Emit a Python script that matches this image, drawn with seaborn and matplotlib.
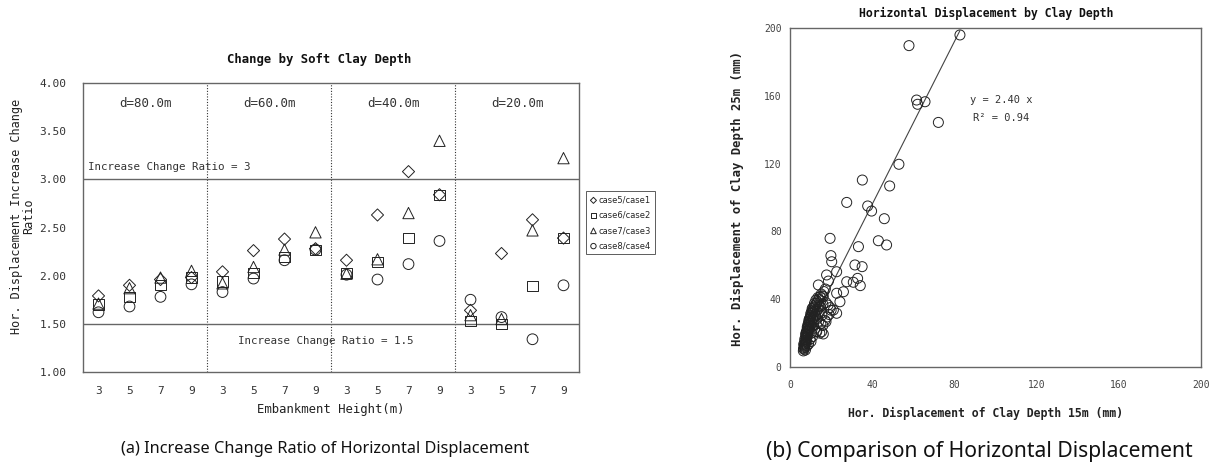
import numpy as np
import pandas as pd
import matplotlib
matplotlib.use("Agg")
import matplotlib.pyplot as plt
import seaborn as sns

# ---- (a) increase change ratio by soft clay depth ----
heights = [3, 5, 7, 9]
depth_labels = ["d=80.0m", "d=60.0m", "d=40.0m", "d=20.0m"]
case_names = ["case5/case1", "case6/case2", "case7/case3", "case8/case4"]

# ratios ordered by depth group (80, 60, 40, 20 m), then embankment height 3,5,7,9
case5_case1 = [1.79, 1.90, 1.96, 1.98, 2.04, 2.26, 2.38, 2.28,
               2.16, 2.63, 3.08, 2.84, 1.64, 2.23, 2.58, 2.39]
case6_case2 = [1.70, 1.78, 1.90, 1.98, 1.94, 2.03, 2.19, 2.27,
               2.03, 2.14, 2.39, 2.84, 1.53, 1.50, 1.89, 2.39]
case7_case3 = [1.71, 1.87, 1.98, 2.05, 1.92, 2.09, 2.27, 2.45,
               2.02, 2.17, 2.65, 3.40, 1.59, 1.55, 2.47, 3.22]
case8_case4 = [1.62, 1.68, 1.78, 1.91, 1.83, 1.97, 2.16, 2.27,
               2.01, 1.96, 2.12, 2.36, 1.75, 1.57, 1.34, 1.90]

ratio_upper = 3.0
ratio_lower = 1.5

# ---- (b) horizontal displacement, clay depth 15 m vs 25 m ----
disp_15m = [82.7, 57.9, 61.6, 62.1, 65.7, 72.2, 53.0, 35.2, 48.5, 27.6,
            37.8, 39.7, 45.9, 43.0, 47.0, 19.5, 33.3, 19.9, 20.3, 22.7,
            17.8, 31.6, 35.1, 18.7, 27.6, 32.9, 30.8, 34.2, 13.8, 26.0,
            22.7, 24.3, 16.2, 21.1, 22.7, 17.5, 15.4, 13.0,
            6.5, 6.8, 7.0, 7.2, 6.9, 7.4, 7.6, 7.3, 7.8, 8.0,
            7.7, 8.2, 8.4, 8.1, 8.6, 8.8, 8.5, 9.0, 9.2, 8.9,
            9.4, 9.6, 9.3, 9.8, 10.0, 10.3, 10.6, 11.0, 11.3, 10.8,
            11.8, 12.3, 12.8, 13.3, 14.0, 14.6, 15.2, 15.8, 16.5, 17.2,
            12.5, 13.2, 14.0, 15.0, 16.0, 17.0, 18.0, 19.0, 11.5, 12.0,
            12.8, 14.5, 16.2, 10.5, 11.0, 9.8, 10.2, 9.0, 8.3, 7.5,
            10.7, 11.4, 12.2, 13.5, 14.8, 16.0, 17.5, 18.5, 20.0, 19.5,
            15.5, 13.8,
            6.6, 7.1, 7.5, 7.9, 8.3, 8.7, 9.1, 9.5, 9.9, 10.4,
            10.9, 11.6, 12.4, 13.0, 14.2, 6.7, 7.2, 7.6, 8.0, 8.4,
            8.8, 9.2, 9.7, 10.1, 10.6, 11.2, 11.9, 12.6, 13.6, 15.0]
disp_25m = [195.9, 189.6, 157.5, 155.0, 156.5, 144.3, 119.6, 110.3, 106.8, 97.1,
            95.0, 92.0, 87.5, 74.5, 72.0, 75.9, 71.0, 65.7, 62.1, 56.2,
            54.3, 60.2, 59.2, 50.7, 50.3, 52.3, 50.0, 48.0, 48.4, 44.4,
            43.5, 38.5, 41.5, 33.6, 31.7, 26.7, 20.8, 20.8,
            9.5, 10.5, 11.5, 12.0, 13.0, 13.5, 14.5, 15.5, 16.0, 17.0,
            18.0, 18.5, 19.5, 20.5, 21.0, 22.0, 23.0, 23.5, 24.5, 25.5,
            26.0, 27.0, 28.0, 28.5, 29.5, 30.5, 31.5, 32.5, 33.5, 34.5,
            35.5, 36.5, 37.5, 38.5, 40.0, 41.5, 43.0, 42.0, 44.5, 46.0,
            30.0, 28.5, 27.0, 25.5, 24.5, 27.5, 29.5, 31.0, 25.0, 22.5,
            21.0, 20.0, 19.5, 20.0, 18.0, 16.5, 15.0, 13.5, 12.5, 10.0,
            24.0, 27.5, 33.0, 34.0, 35.5, 37.0, 38.0, 36.5, 33.5, 35.0,
            30.5, 31.5,
            11.0, 12.5, 14.0, 15.0, 17.5, 19.0, 21.5, 22.5, 24.0, 26.5,
            28.5, 30.0, 31.0, 33.0, 36.0, 13.5, 16.5, 19.5, 21.0, 23.5,
            25.0, 27.0, 29.0, 31.5, 33.0, 35.0, 37.5, 39.5, 41.0, 39.0]
fit_slope = 2.40
fit_r2 = 0.94

# ---------------------------------------------------------------------
sns.set_style("white")
plt.rcParams["font.family"] = ["DejaVu Sans Mono", "DejaVu Sans"]

W, H = 1215, 468
fig = plt.figure(figsize=(W / 100, H / 100), dpi=100)

INK = "#222222"
FRAME = "#666666"

# ---------------- panel (a) ----------------
ax1 = fig.add_axes([83 / W, 1 - 372 / H, 496 / W, 289 / H])
n_groups = len(depth_labels)
n_h = len(heights)
positions = np.arange(n_groups * n_h)

rows = []
for name, vals in zip(case_names, [case5_case1, case6_case2, case7_case3, case8_case4]):
    for p, v in zip(positions, vals):
        rows.append({"pos": p, "ratio": v, "case": name})
df = pd.DataFrame(rows)

marker_spec = {
    "case5/case1": ("D", 38),
    "case6/case2": ("s", 54),
    "case7/case3": ("^", 66),
    "case8/case4": ("o", 60),
}
for name in case_names:
    m, s = marker_spec[name]
    sns.scatterplot(data=df[df["case"] == name], x="pos", y="ratio", marker=m, s=s,
                    facecolors="none", edgecolor=INK, linewidth=0.7,
                    label=name, ax=ax1, zorder=3)

ax1.set_xlim(-0.5, n_groups * n_h - 0.5)
ax1.set_ylim(1.0, 4.0)
ax1.set_xticks(positions)
ax1.set_xticklabels([str(h) for _ in depth_labels for h in heights])
yt = np.arange(1.0, 4.01, 0.5)
ax1.set_yticks(yt)
ax1.set_yticklabels([f"{v:.2f}" for v in yt])
ax1.tick_params(axis="both", length=0, labelsize=8, colors="#333333")
ax1.tick_params(axis="y", pad=12)
ax1.tick_params(axis="x", pad=10)

for sp in ax1.spines.values():
    sp.set_color(FRAME)
    sp.set_linewidth(1.0)

for g in range(1, n_groups):
    ax1.axvline(g * n_h - 0.5, color="#333333", lw=0.8, ls=(0, (1, 1.5)), zorder=1)
ax1.axhline(ratio_upper, color=FRAME, lw=1.0, zorder=1)
ax1.axhline(ratio_lower, color=FRAME, lw=1.0, zorder=1)

for g, lab in enumerate(depth_labels):
    ax1.text(g * n_h + (n_h - 1) / 2, 3.79, lab, ha="center", va="center",
             fontsize=9, color="#333333")
ax1.text(-0.35, 3.13, f"Increase Change Ratio = {ratio_upper:g}", ha="left",
         va="center", fontsize=7.8, color="#333333")
ax1.text(7.34, 1.32, f"Increase Change Ratio = {ratio_lower:g}", ha="center",
         va="center", fontsize=7.8, color="#333333")

ax1.set_xlabel("Embankment Height(m)", fontsize=8.8, labelpad=5, color="#222222")
ax1.set_ylabel("")
# two-line y title, one text per line
fig.text(17 / W, 1 - 216 / H, "Hor. Displacement Increase Change",
         rotation=90, ha="center", va="center", fontsize=8.6, color="#222222")
fig.text(29 / W, 1 - 216 / H, "Ratio",
         rotation=90, ha="center", va="center", fontsize=8.6, color="#222222")
fig.text(319 / W, 1 - 60 / H, "Change by Soft Clay Depth", ha="center", va="center",
         fontsize=8.8, fontweight="bold", color="#111111")

leg = ax1.legend(loc="upper left", bbox_to_anchor=(1.014, 0.625), frameon=True,
                 fancybox=False, markerscale=0.5, handletextpad=0.2,
                 borderpad=0.5, labelspacing=0.75, handlelength=0.8,
                 borderaxespad=0, prop={"family": "DejaVu Sans", "size": 6.0})
leg.get_frame().set_edgecolor("#333333")
leg.get_frame().set_linewidth(0.7)

# ---------------- panel (b) ----------------
ax2 = fig.add_axes([790 / W, 1 - 367 / H, 411 / W, 339 / H])
sns.scatterplot(x=disp_15m, y=disp_25m, marker="o", s=52, facecolors="none",
                edgecolor=INK, linewidth=0.7, ax=ax2, zorder=3)
fit_x = np.array([min(disp_15m), max(disp_15m)])
sns.lineplot(x=fit_x, y=fit_slope * fit_x, color="#444444", lw=0.8, ax=ax2, zorder=2)

ax2.set_xlim(0, 200)
ax2.set_ylim(0, 200)
ticks = np.arange(0, 201, 40)
ax2.set_xticks(ticks)
ax2.set_yticks(ticks)
ax2.tick_params(axis="both", direction="in", length=3, width=0.7, color=FRAME,
                labelsize=7, labelcolor="#444444")
ax2.tick_params(axis="x", pad=9)
ax2.tick_params(axis="y", pad=6)
for sp in ax2.spines.values():
    sp.set_color(FRAME)
    sp.set_linewidth(1.0)

ax2.text(1001 / W, 1 - 100 / H, f"y = {fit_slope:.2f} x", transform=fig.transFigure,
         ha="center", va="center", fontsize=7.5, color="#333333")
ax2.text(1001 / W, 1 - 118 / H, f"R\u00b2 = {fit_r2:.2f}", transform=fig.transFigure,
         ha="center", va="center", fontsize=7.5, color="#333333")

ax2.set_xlabel("")
ax2.set_ylabel("")
fig.text(985 / W, 1 - 413 / H, "Hor. Displacement of Clay Depth 15m (mm)",
         ha="center", va="center", fontsize=8.3, fontweight="bold", color="#222222")
fig.text(737 / W, 1 - 198 / H, "Hor. Displacement of Clay Depth 25m (mm)",
         rotation=90, ha="center", va="center", fontsize=8.8, fontweight="bold",
         color="#222222")
fig.text(986 / W, 1 - 13 / H, "Horizontal Displacement by Clay Depth", ha="center",
         va="center", fontsize=8.3, fontweight="bold", color="#111111")

# ---------------- captions ----------------
cap_a = fig.text(325 / W, 1 - 449 / H,
                 "(a) Increase Change Ratio of Horizontal Displacement",
                 ha="center", va="center", fontsize=13, color="#111111",
                 family="Noto Sans")
# size caption (a) to span its column
renderer = fig.canvas.get_renderer()
w_px = cap_a.get_window_extent(renderer).width
cap_a.set_fontsize(13.0 * 410.0 / w_px)

fig.text(979 / W, 1 - 452 / H, "(b) Comparison of Horizontal Displacement",
         ha="center", va="center", fontsize=15.2, family="Noto Sans", color="#111111")

fig.savefig("out.png", dpi=100, facecolor="white")
